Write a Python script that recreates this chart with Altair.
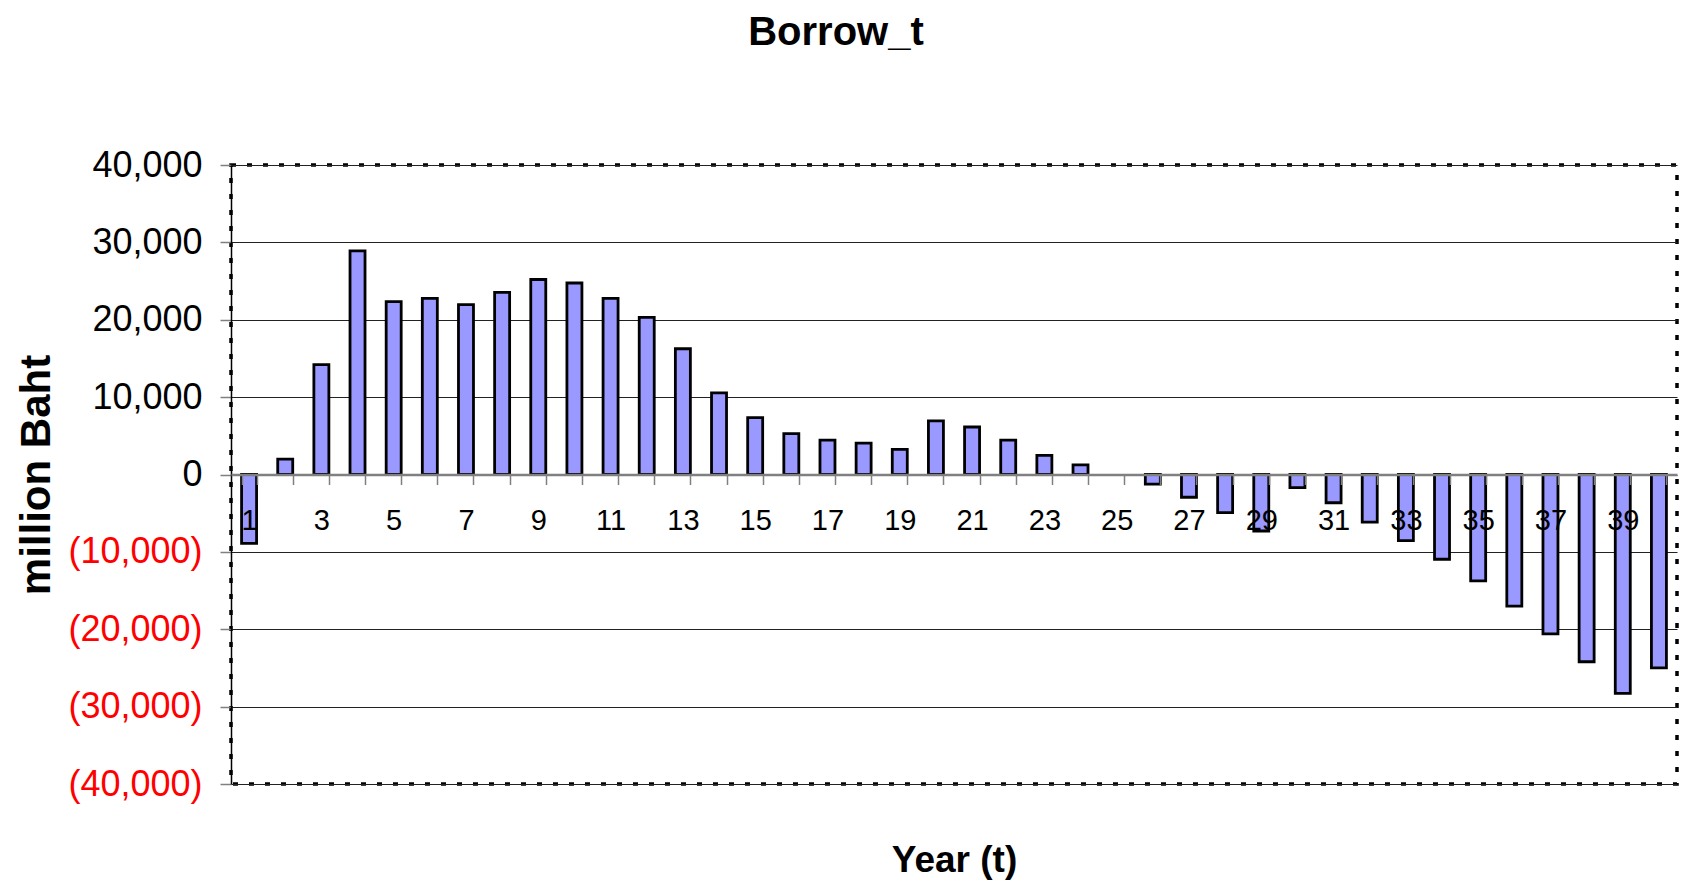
import altair as alt
import pandas as pd

years = list(range(1, 41))
borrow = [-8900, 2000, 14200, 28900, 22350, 22750, 21950, 23550, 25200, 24750,
          22750, 20300, 16250, 10550, 7350, 5270, 4450, 4060, 3240, 6920,
          6140, 4450, 2460, 1250, 0, -1250, -2940, -4930, -7300, -1700,
          -3650, -6150, -8550, -10950, -13750, -17000, -20600, -24200, -28300, -25000]
y_ticks = [-40000, -30000, -20000, -10000, 0, 10000, 20000, 30000, 40000]

df = pd.DataFrame({"year": years, "borrow": borrow})

FONT = "Liberation Sans, Arial, sans-serif"
W, H = 1446, 619
p = 1 - 15 / 36.15

bars = alt.Chart(df).mark_bar(
    fill="#9999FF", stroke="black", strokeWidth=2.8
).encode(
    x=alt.X("year:O", sort="ascending",
            scale=alt.Scale(paddingInner=p, paddingOuter=p / 2),
            axis=alt.Axis(
                title="Year (t)", titleFont=FONT, titleFontSize=37, titleFontWeight="bold",
                titleColor="black", titleY=386, titleBaseline="middle", titleX=W / 2,
                titleAnchor="middle",
                labelExpr="datum.value % 2 == 1 ? datum.label : ''",
                labelFont=FONT, labelFontSize=29, labelColor="black", labelAngle=0,
                labelPadding=22, tickSize=10, tickBand="extent", tickColor="#808080",
                tickWidth=1.5, domainColor="#808080", domainWidth=2.5,
                offset=-H / 2, zindex=1, labelOverlap=False)),
    y=alt.Y("borrow:Q",
            scale=alt.Scale(domain=[-40000, 40000], nice=False, zero=False),
            axis=alt.Axis(
                values=y_ticks, title="million Baht", titleFont=FONT, titleFontSize=42,
                titleFontWeight="bold", titleColor="black", titleX=-195, titleY=H / 2,
                titleAngle=-90, titleAlign="center", titleBaseline="middle",
                labelExpr="datum.value < 0 ? '(' + format(-datum.value, ',') + ')' : format(datum.value, ',') + '\u00a0'",
                labelFont=FONT, labelFontSize=36,
                labelColor={"condition": {"test": "datum.value < 0", "value": "#FF0000"}, "value": "black"},
                labelPadding=18, tickSize=11, tickColor="#808080", tickWidth=1.5,
                domainColor="black", domainWidth=1.5,
                grid=True, gridColor="#222222", gridWidth=1.2)),
    strokeOpacity=alt.condition("datum.borrow == 0", alt.value(0), alt.value(1)),
)

chart = bars.properties(
    width=W, height=H,
    background="white",
    title=alt.TitleParams("Borrow_t", font=FONT, fontSize=40, fontWeight="bold",
                          color="black", anchor="middle", dx=-118, offset=94),
    autosize=alt.AutoSizeParams(type="none"),
    padding={"left": 223, "top": 157, "right": 12, "bottom": 97},
).configure_view(
    stroke="black", strokeWidth=3.5, strokeDash=[5, 11]
)

chart.save("out.html", embed_options={"renderer": "svg", "actions": False})
